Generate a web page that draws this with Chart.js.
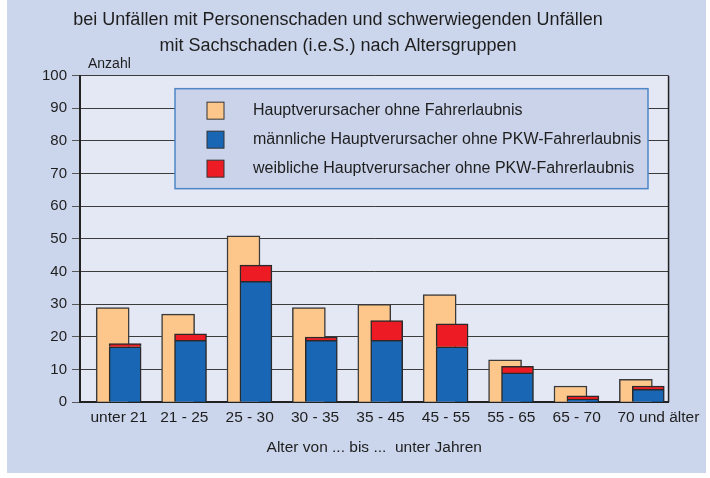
<!DOCTYPE html>
<html>
<head>
<meta charset="utf-8">
<script src="https://cdn.jsdelivr.net/npm/chart.js@4/dist/chart.umd.min.js"></script>
<style>
  body { margin: 0; background: #ffffff; }
  #panel { position: absolute; left: 7px; top: 0; width: 699px; height: 473px; background: #cbd5eb; }
</style>
</head>
<body>
<div id="panel"><canvas id="chart" width="699" height="473"></canvas></div>
<script>
// Altersgruppen und Werte (Anzahl)
const categories = ['unter 21', '21 - 25', '25 - 30', '30 - 35', '35 - 45', '45 - 55', '55 - 65', '65 - 70', '70 und älter'];
const ohneFahrerlaubnis = [29, 27, 51, 29, 30, 33, 13, 5, 7];
const maennlich = [17, 19, 37, 19, 19, 17, 9, 1, 4];
const weiblich = [1, 2, 5, 1, 6, 7, 2, 1, 1];
const yTicks = [0, 10, 20, 30, 40, 50, 60, 70, 80, 90, 100];

const FONT = '"Liberation Sans", Arial, sans-serif';
Chart.defaults.font.family = FONT;
Chart.defaults.color = '#1e1e1e';

// blue/red column sits a bit to the right of the orange one
const shift = 0.19;

// backgrounds, frame, "Anzahl" and the boxed legend
const decor = {
  id: 'decor',
  beforeDraw(chart) {
    const { ctx, chartArea: a } = chart;
    ctx.save();
    ctx.fillStyle = '#e4e8f5';
    ctx.fillRect(a.left, a.top, a.right - a.left, a.bottom - a.top);
    ctx.restore();
  },
  afterDraw(chart) {
    const { ctx, chartArea: a } = chart;
    ctx.save();
    // right frame line
    ctx.strokeStyle = '#222';
    ctx.lineWidth = 1.5;
    ctx.beginPath();
    ctx.moveTo(a.right, a.top);
    ctx.lineTo(a.right, a.bottom);
    ctx.stroke();

    ctx.fillStyle = '#1e1e1e';
    ctx.font = '14px ' + FONT;
    ctx.textBaseline = 'middle';
    ctx.fillText('Anzahl', a.left + 8, a.top - 12);

    // legend
    const x = a.left + 95, y = a.top + 13, w = 473, h = 100;
    ctx.fillStyle = '#cad3ea';
    ctx.fillRect(x, y, w, h);
    ctx.strokeStyle = '#4f86c6';
    ctx.lineWidth = 1.5;
    ctx.strokeRect(x, y, w, h);
    ctx.font = '16px ' + FONT;
    chart.data.datasets.forEach((ds, i) => {
      const cy = y + 22 + i * 29;
      ctx.fillStyle = ds.backgroundColor;
      ctx.fillRect(x + 32, cy - 8.5, 17, 17);
      ctx.strokeStyle = '#333';
      ctx.lineWidth = 1;
      ctx.strokeRect(x + 32, cy - 8.5, 17, 17);
      ctx.fillStyle = '#1e1e1e';
      ctx.fillText(ds.label, x + 78, cy);
    });
    ctx.restore();
  }
};

new Chart(document.getElementById('chart'), {
  type: 'bar',
  data: {
    datasets: [
      {
        label: 'Hauptverursacher ohne Fahrerlaubnis',
        data: ohneFahrerlaubnis.map((v, i) => ({ x: i, y: v })),
        backgroundColor: '#fdc78b',
        borderColor: '#3a3a3a',
        borderWidth: 1.5,
        barThickness: 33,
        grouped: false,
        stack: 'gesamt',
        order: 2
      },
      {
        label: 'männliche Hauptverursacher ohne PKW-Fahrerlaubnis',
        data: maennlich.map((v, i) => ({ x: i + shift, y: v })),
        backgroundColor: '#1866b4',
        borderColor: '#2a2a2a',
        borderWidth: 1.5,
        barThickness: 32,
        grouped: false,
        stack: 'pkw',
        order: 1
      },
      {
        label: 'weibliche Hauptverursacher ohne PKW-Fahrerlaubnis',
        data: weiblich.map((v, i) => ({ x: i + shift, y: v })),
        backgroundColor: '#ed1c24',
        borderColor: '#2a2a2a',
        borderWidth: 1.5,
        barThickness: 32,
        grouped: false,
        stack: 'pkw',
        order: 1
      }
    ]
  },
  options: {
    responsive: false,
    animation: false,
    layout: { padding: { left: 0, right: 37, top: 0, bottom: 0 } },
    plugins: {
      legend: { display: false },
      tooltip: { enabled: false },
      title: {
        display: true,
        text: ['bei Unfällen mit Personenschaden und schwerwiegenden Unfällen', 'mit Sachschaden (i.e.S.) nach Altersgruppen'],
        color: '#1e1e1e',
        font: { size: 18, weight: 'normal', lineHeight: 1.47 },
        padding: { top: 6.75, bottom: 16 }
      }
    },
    scales: {
      x: {
        type: 'linear',
        offset: false,
        min: -0.5,
        max: 8.5,
        // labels sit under each bar pair; the long last one is pushed right
        afterBuildTicks: axis => {
          axis.ticks = categories.map((c, i) => ({ value: i + shift / 2 + (i === categories.length - 1 ? 0.25 : 0) }));
        },
        afterFit: axis => { axis.height = 70.7; },
        grid: { display: false, drawTicks: false, offset: false },
        border: { display: true, color: '#222', width: 2 },
        ticks: {
          autoSkip: false,
          maxRotation: 0,
          padding: 6,
          font: { size: 15.5 },
          callback: (v, i) => categories[i]
        },
        title: {
          display: true,
          text: 'Alter von ... bis ...  unter Jahren',
          font: { size: 15.5 },
          padding: { top: 0, bottom: 16.4 }
        }
      },
      y: {
        stacked: true,
        min: 0,
        max: 100,
        afterBuildTicks: axis => { axis.ticks = yTicks.map(v => ({ value: v })); },
        afterFit: axis => { axis.width = 73; },
        grid: { color: '#3c3c3c', lineWidth: 1, tickLength: 8, tickColor: '#555' },
        border: { display: true, color: '#222', width: 2 },
        ticks: { padding: 5, font: { size: 15 } }
      }
    }
  },
  plugins: [decor]
});
</script>
</body>
</html>
